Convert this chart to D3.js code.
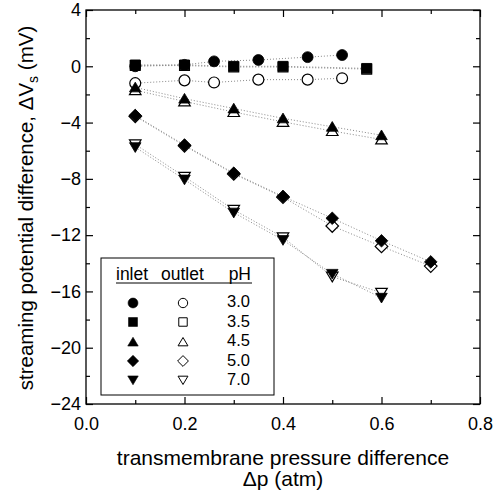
<!DOCTYPE html>
<html><head><meta charset="utf-8">
<script src="https://cdn.jsdelivr.net/npm/d3@7"></script>
<style>
body{margin:0;background:#fff;}
svg{display:block;font-family:"Liberation Sans",Arial,Helvetica,sans-serif;}
</style></head><body>
<svg id="chart" width="495" height="495"></svg>
<script>
// ---- data ----
const pH = ["3.0","3.5","4.5","5.0","7.0"];
const symbols = ["circle","square","triangle","diamond","triangleDown"];
const xTicks = [0.0,0.2,0.4,0.6,0.8];
const yTicks = [4,0,-4,-8,-12,-16,-20,-24];

const x_pH30 = [0.1,0.2,0.26,0.35,0.45,0.52];
const inlet_pH30  = [0.0,0.1,0.35,0.45,0.65,0.8];
const outlet_pH30 = [-1.2,-1.0,-1.15,-0.95,-0.95,-0.85];

const x_pH35 = [0.1,0.2,0.3,0.4,0.57];
const inlet_pH35  = [0.1,0.1,0.0,0.0,-0.15];
const outlet_pH35 = [0.05,0.05,-0.05,-0.05,-0.2];

const x_pH45 = [0.1,0.2,0.3,0.4,0.5,0.6];
const inlet_pH45  = [-1.5,-2.3,-3.0,-3.7,-4.3,-4.9];
const outlet_pH45 = [-1.7,-2.5,-3.25,-3.95,-4.6,-5.2];

const x_pH50 = [0.1,0.2,0.3,0.4,0.5,0.6,0.7];
const inlet_pH50  = [-3.5,-5.6,-7.6,-9.25,-10.8,-12.4,-13.9];
const outlet_pH50 = [-3.55,-5.65,-7.65,-9.3,-11.35,-12.8,-14.2];

const x_pH70 = [0.1,0.2,0.3,0.4,0.5,0.6];
const inlet_pH70  = [-5.75,-8.05,-10.4,-12.35,-14.75,-16.45];
const outlet_pH70 = [-5.55,-7.85,-10.2,-12.15,-14.95,-16.1];

const xs = [x_pH30,x_pH35,x_pH45,x_pH50,x_pH70];
const inlets = [inlet_pH30,inlet_pH35,inlet_pH45,inlet_pH50,inlet_pH70];
const outlets = [outlet_pH30,outlet_pH35,outlet_pH45,outlet_pH50,outlet_pH70];

// ---- layout ----
const svg = d3.select("#chart");
const L=86,R=480,T=10,B=404;
const x = d3.scaleLinear().domain([0,0.8]).range([L,R]);
const y = d3.scaleLinear().domain([-24,4]).range([B,T]);

function symPath(type, s){
  const p = d3.path();
  if(type==="circle"){ p.arc(0,0,s*0.52,0,2*Math.PI); }
  else if(type==="square"){ const h=s*0.47; p.rect(-h,-h,2*h,2*h); }
  else if(type==="triangle"){ const w=s*0.55,h=s*0.5; p.moveTo(0,-h); p.lineTo(w,h*0.85); p.lineTo(-w,h*0.85); p.closePath(); }
  else if(type==="triangleDown"){ const w=s*0.55,h=s*0.5; p.moveTo(0,h); p.lineTo(w,-h*0.85); p.lineTo(-w,-h*0.85); p.closePath(); }
  else if(type==="diamond"){ const h=s*0.6; p.moveTo(0,-h); p.lineTo(h,0); p.lineTo(0,h); p.lineTo(-h,0); p.closePath(); }
  return p.toString();
}

function styleTicks(g){
  g.select(".domain").remove();
  g.selectAll("line").attr("stroke","#000").attr("stroke-width",1.2);
  g.selectAll("text").attr("font-size",18).attr("font-family","Liberation Sans, Arial, sans-serif").attr("fill","#000");
}
const fmtX = d3.format(".1f");
const xMinor = [0.1,0.3,0.5,0.7];
const yMinor = [2,-2,-6,-10,-14,-18,-22];
// bottom
styleTicks(svg.append("g").attr("transform",`translate(0,${B})`)
  .call(d3.axisBottom(x).tickValues(xTicks).tickSizeInner(-7).tickSizeOuter(0).tickPadding(13).tickFormat(fmtX)));
styleTicks(svg.append("g").attr("transform",`translate(0,${B})`)
  .call(d3.axisBottom(x).tickValues(xMinor).tickSizeInner(-4).tickSizeOuter(0).tickFormat("")));
// top
styleTicks(svg.append("g").attr("transform",`translate(0,${T})`)
  .call(d3.axisTop(x).tickValues(xTicks).tickSizeInner(-7).tickSizeOuter(0).tickFormat("")));
styleTicks(svg.append("g").attr("transform",`translate(0,${T})`)
  .call(d3.axisTop(x).tickValues(xMinor).tickSizeInner(-4).tickSizeOuter(0).tickFormat("")));
// left
styleTicks(svg.append("g").attr("transform",`translate(${L},0)`)
  .call(d3.axisLeft(y).tickValues(yTicks).tickSizeInner(-7).tickSizeOuter(0).tickPadding(5).tickFormat(d3.format("d"))));
styleTicks(svg.append("g").attr("transform",`translate(${L},0)`)
  .call(d3.axisLeft(y).tickValues(yMinor).tickSizeInner(-4).tickSizeOuter(0).tickFormat("")));
// right
styleTicks(svg.append("g").attr("transform",`translate(${R},0)`)
  .call(d3.axisRight(y).tickValues(yTicks).tickSizeInner(-7).tickSizeOuter(0).tickFormat("")));
styleTicks(svg.append("g").attr("transform",`translate(${R},0)`)
  .call(d3.axisRight(y).tickValues(yMinor).tickSizeInner(-4).tickSizeOuter(0).tickFormat("")));

// frame
svg.append("rect").attr("x",L).attr("y",T).attr("width",R-L).attr("height",B-T)
  .attr("fill","none").attr("stroke","#000").attr("stroke-width",1.3);

// lines
const line = d3.line().x(d=>x(d[0])).y(d=>y(d[1]));
const linesG = svg.append("g");
for(let i=0;i<pH.length;i++){
  for(const vals of [outlets[i], inlets[i]]){
    const pts = xs[i].map((xv,j)=>[xv,vals[j]]);
    linesG.append("path").attr("d",line(pts)).attr("fill","none")
      .attr("stroke","#888").attr("stroke-width",1).attr("stroke-dasharray","1,2");
  }
}
// markers: open first, filled on top
const mk = svg.append("g");
for(let i=0;i<pH.length;i++){
  xs[i].forEach((xv,j)=>{
    mk.append("path").attr("d",symPath(symbols[i],10.5))
      .attr("transform",`translate(${x(xv)},${y(outlets[i][j])})`)
      .attr("fill","#fff").attr("stroke","#000").attr("stroke-width",1.2);
  });
}
for(let i=0;i<pH.length;i++){
  xs[i].forEach((xv,j)=>{
    mk.append("path").attr("d",symPath(symbols[i],10.5))
      .attr("transform",`translate(${x(xv)},${y(inlets[i][j])})`)
      .attr("fill","#000").attr("stroke","#000").attr("stroke-width",0.8);
  });
}

// legend
const lg = svg.append("g");
lg.append("rect").attr("x",101).attr("y",258).attr("width",173).attr("height",137)
  .attr("fill","#fff").attr("stroke","#000").attr("stroke-width",1);
const hdrY = 280;
lg.append("text").attr("x",116).attr("y",hdrY).attr("font-size",17.5).text("inlet");
lg.append("text").attr("x",161).attr("y",hdrY).attr("font-size",17.5).text("outlet");
lg.append("text").attr("x",251).attr("y",hdrY).attr("font-size",17.5).attr("text-anchor","end").text("pH");
lg.append("line").attr("x1",116).attr("x2",252).attr("y1",283).attr("y2",283).attr("stroke","#000").attr("stroke-width",1);
const rowY = [303,322,342,361,380];
const textY = [307,326.5,346,365.5,385];
pH.forEach((p,i)=>{
  lg.append("path").attr("d",symPath(symbols[i],9.5)).attr("transform",`translate(133,${rowY[i]})`)
    .attr("fill","#000").attr("stroke","#000").attr("stroke-width",0.6);
  lg.append("path").attr("d",symPath(symbols[i],9)).attr("transform",`translate(183,${rowY[i]})`)
    .attr("fill","#fff").attr("stroke","#000").attr("stroke-width",1);
  lg.append("text").attr("x",250).attr("y",textY[i]).attr("font-size",16.5).attr("text-anchor","end").text(p);
});

// axis titles
svg.append("text").attr("x",283).attr("y",465).attr("font-size",21).attr("text-anchor","middle")
  .text("transmembrane pressure difference");
svg.append("text").attr("x",283).attr("y",486).attr("font-size",21).attr("text-anchor","middle")
  .text("\u0394p (atm)");
const yt = svg.append("text").attr("transform","translate(33,208) rotate(-90)")
  .attr("font-size",20.5).attr("text-anchor","middle");
yt.append("tspan").text("streaming potential difference, \u0394V");
yt.append("tspan").attr("font-size",14).attr("dy",5).text("s");
yt.append("tspan").attr("dy",-5).text(" (mV)");
</script>
</body></html>
